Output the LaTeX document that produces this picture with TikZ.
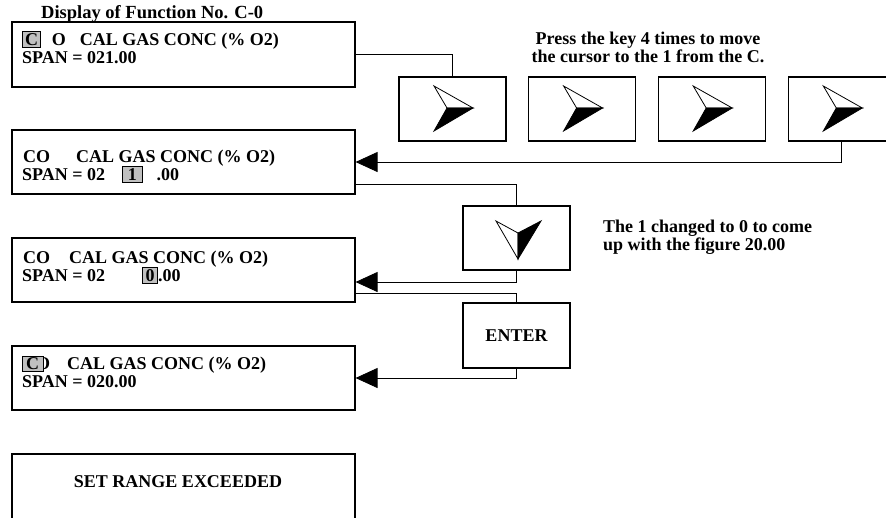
\documentclass[tikz,border=0pt]{standalone}
\usepackage{fontspec}
\setmainfont{Liberation Serif}
\usepackage{tikz}
\usetikzlibrary{arrows.meta,positioning,calc}
\definecolor{CellGray}{HTML}{C0C0C0}
\newcommand{\lcdfont}{\fontsize{18}{18}\selectfont\bfseries}
\newcommand{\hlcell}[2][1pt]{{\setlength{\fboxsep}{1.5pt}\setlength{\fboxrule}{0.8pt}\fcolorbox{black}{CellGray}{\hspace{#1}#2\hspace{#1}}}}

\begin{document}
\begin{tikzpicture}[x=1pt,y=-1pt,
    lcd/.style={draw,line width=1.1pt,minimum width=343pt,minimum height=64pt,inner sep=0pt},
    keybox/.style={draw,line width=1.1pt,minimum width=107pt,minimum height=64pt,inner sep=0pt,font=\lcdfont},
    txt/.style={font=\lcdfont,inner sep=0pt,anchor=base west},
    cursor/.style={draw,line width=0.8pt,fill=CellGray,minimum width=21pt,minimum height=15pt,inner sep=0pt,font=\lcdfont},
    link/.style={line width=0.8pt},
    tip/.style={-{Triangle[length=22pt,width=20pt]}},
    rightglyph/.pic={
        \draw[line width=0.8pt,fill=white] (-18.5,-23) -- (20.5,-1) -- (-5.5,-1) -- cycle;
        \draw[line width=0.8pt,fill=black] (-5.5,-1) -- (20.5,-1) -- (-18.5,22) -- cycle;},
    downglyph/.pic={
        \draw[line width=0.8pt,fill=white] (-20.5,-17) -- (1.5,-5) -- (1.5,21) -- cycle;
        \draw[line width=0.8pt,fill=black] (1.5,-5) -- (24.5,-17) -- (1.5,21) -- cycle;}]
    \useasboundingbox (0,0) rectangle (886,517);

    % Title
    \node[txt,font=\fontsize{18.5}{18.5}\selectfont\bfseries] (title) at (41,18) {Display of Function No. C-0};

    % Display boxes
    \node[lcd,minimum height=65pt] (disp1) at (183.5,54.5) {};
    \node[lcd] (disp2) at (183.5,162) {};
    \node[lcd] (disp3) at (183.5,270) {};
    \node[lcd] (disp4) at (183.5,378) {};
    \node[lcd,minimum height=86pt] (disp5) at (183.5,497) {};

    % Display texts
    \node[txt] (d1top) at (22,45) {\hlcell[0.5pt]{C}\hspace{11pt}O\hspace{14pt}CAL GAS CONC (\% O2)};
    \node[txt] (d1span) at (22,63) {SPAN = 021.00};
    \node[txt] (d2top) at (23,162) {CO\hspace{26pt}CAL GAS CONC (\% O2)};
    \node[txt] (d2span) at (22,180) {SPAN = 02\hspace{17pt}\hlcell[3.5pt]{1}\hspace{14pt}.00};
    \node[txt] (d3top) at (23,263) {CO\hspace{19pt}CAL GAS CONC (\% O2)};
    \node[txt] (d3span) at (22,281) {SPAN = 02\hspace{37pt}\hlcell[1.2pt]{0}.00};
    \node[txt] (d4top) at (23,369) {CO\hspace{17pt}CAL GAS CONC (\% O2)};
    \node[cursor] (cur4) at (32.5,363.5) {C};
    \node[txt] (d4span) at (22,387) {SPAN = 020.00};
    \node[font=\lcdfont,inner sep=0pt,anchor=base] (alarm) at (178,487) {SET RANGE EXCEEDED};

    % Key boxes
    \node[keybox] (keyA) at (452.5,109) {};
    \node[keybox,right=21.5pt of keyA] (keyB) {};
    \node[keybox,right=21.5pt of keyB] (keyC) {};
    \node[keybox,right=22pt of keyC] (keyD) {};
    \pic at (keyA.center) {rightglyph};
    \pic at (keyB.center) {rightglyph};
    \pic at (keyC.center) {rightglyph};
    \pic at (keyD.center) {rightglyph};
    \node[keybox] (dnkey) at (516.5,238) {};
    \pic at (dnkey.center) {downglyph};
    \node[keybox,minimum height=65pt] (enter) at (516.5,335.5) {ENTER};

    % Notes
    \node[font=\lcdfont,inner sep=0pt,anchor=base] (press1) at (648,44) {Press the key 4 times to move};
    \node[font=\lcdfont,inner sep=0pt,anchor=base] (press2) at (648,62) {the cursor to the 1 from the C.};
    \node[txt] (note1) at (603,232) {The 1 changed to 0 to come};
    \node[txt] (note2) at (603,250) {up with the figure 20.00};

    % Connectors
    \draw[link] (disp1.east) -| (keyA.north);
    \draw[link,tip] (keyD.south) |- (disp2.east);
    \draw[link] ([yshift=-22pt]disp2.east) -| (dnkey.north);
    \draw[link,tip] (dnkey.south) |- ([yshift=-12pt]disp3.east);
    \draw[link] ([yshift=-23pt]disp3.east) -| (enter.north);
    \draw[link,tip] (enter.south) |- (disp4.east);
\end{tikzpicture}
\end{document}
